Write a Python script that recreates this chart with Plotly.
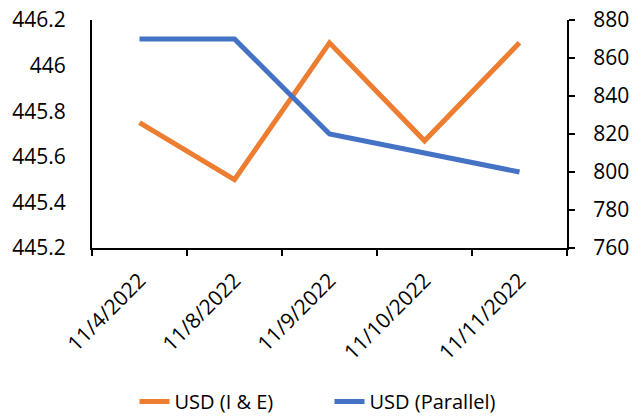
import plotly.graph_objects as go

dates = ["11/4/2022", "11/8/2022", "11/9/2022", "11/10/2022", "11/11/2022"]
usd_ie = [445.75, 445.5, 446.1, 445.67, 446.1]
usd_parallel = [870, 870, 820, 810, 800]

orange = "#ED7D31"
blue = "#4472C4"
font_family = "Open Sans"

fig = go.Figure()
fig.add_trace(go.Scatter(
    x=dates, y=usd_ie, name="USD (I & E)", mode="lines",
    line=dict(color=orange, width=5), yaxis="y",
))
fig.add_trace(go.Scatter(
    x=dates, y=usd_parallel, name="USD (Parallel)", mode="lines",
    line=dict(color=blue, width=5), yaxis="y2",
))

fig.update_layout(
    width=641, height=417,
    margin=dict(l=92, r=74, t=20, b=169, autoexpand=False),
    paper_bgcolor="white", plot_bgcolor="white",
    font=dict(family=font_family, size=21, color="black"),
    showlegend=True,
    legend=dict(
        orientation="h", x=0.5, xanchor="center",
        yref="container", y=0.037, yanchor="middle",
        font=dict(size=20), itemwidth=30, entrywidth=150,
    ),
    xaxis=dict(
        type="category", range=[-0.5, 4.5],
        showline=True, linecolor="black", linewidth=2,
        ticks="outside", ticklen=6, tickwidth=2, tickcolor="black",
        tickson="boundaries", tickangle=-45,
        showgrid=False, zeroline=False,
        ticklabelstandoff=10,
    ),
    yaxis=dict(
        range=[445.2, 446.2],
        tickvals=[445.2, 445.4, 445.6, 445.8, 446.0, 446.2],
        ticktext=["445.2", "445.4", "445.6", "445.8", "446", "446.2"],
        showline=True, linecolor="black", linewidth=2,
        ticks="", showgrid=False, zeroline=False,
        ticklabelstandoff=20,
    ),
    yaxis2=dict(
        range=[760, 880], dtick=20, overlaying="y", side="right",
        showline=True, linecolor="black", linewidth=2,
        ticks="outside", ticklen=6, tickwidth=2, tickcolor="black",
        showgrid=False, zeroline=False,
        ticklabelstandoff=14,
    ),
)

fig.write_html("out.html")
